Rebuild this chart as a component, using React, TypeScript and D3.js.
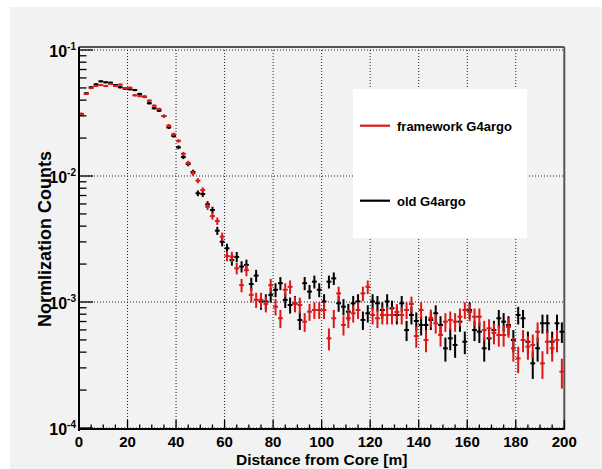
import React from "react";
import * as d3 from "d3";

// Bin layout (2 m bins from 0 to 200 m)
const BIN_WIDTH = 2;
const X_MIN = 0;
const X_MAX = 200;

// Normalized counts, old G4argo (black)
const oldG4argo = [
  0.031, 0.0453, 0.0506, 0.0534, 0.0564, 0.0554, 0.055, 0.0527, 0.0506, 0.0493,
  0.0488, 0.0481, 0.0448, 0.0426, 0.0378, 0.0345, 0.033, 0.0299, 0.0243, 0.0208,
  0.0169, 0.01415, 0.01245, 0.01076, 0.00729, 0.0072, 0.00596, 0.00537, 0.00368, 0.00301,
  0.00267, 0.00215, 0.00228, 0.00191, 0.00197, 0.00139, 0.00162, 0.00101, 0.00101, 0.00114,
  0.00125, 0.00141, 0.00104, 0.000947, 0.000977, 0.00072, 0.00141, 0.00121, 0.00145, 0.00125,
  0.00101, 0.00145, 0.00154, 0.000977, 0.000918, 0.000838, 0.000977, 0.00101, 0.00072, 0.000814,
  0.00101, 0.000977, 0.000864, 0.00101, 0.000891, 0.000789, 0.000977, 0.000599, 0.000789, 0.000707,
  0.000657, 0.000657, 0.00072, 0.000814, 0.000657, 0.000429, 0.000515, 0.000456, 0.000698, 0.000484,
  0.000864, 0.000599, 0.000581, 0.000429, 0.000515, 0.000599, 0.000743, 0.000698, 0.000657, 0.000499,
  0.000789, 0.000743, 0.000484, 0.000326, 0.000429, 0.000678, 0.000678, 0.000484, 0.000678, 0.000581,
];

// Normalized counts, framework G4argo (red)
const frameworkG4argo = [
  0.031, 0.0448, 0.0499, 0.0518, 0.0527, 0.0518, 0.0537, 0.0518, 0.0531, 0.0499,
  0.0502, 0.0437, 0.0431, 0.0424, 0.0396, 0.0361, 0.034, 0.0299, 0.0251, 0.0214,
  0.019, 0.015, 0.0127, 0.0105, 0.00918, 0.00774, 0.00571, 0.00481, 0.00439, 0.0033,
  0.00232, 0.00229, 0.00185, 0.00136, 0.00179, 0.00114, 0.00104, 0.00104, 0.000966, 0.00136,
  0.000918, 0.000743, 0.00125, 0.00132, 0.000966, 0.000947, 0.000698, 0.000838, 0.000864, 0.000864,
  0.000864, 0.000515, 0.000743, 0.00117, 0.000657, 0.000743, 0.000814, 0.000864, 0.00117, 0.00132,
  0.000789, 0.000743, 0.000789, 0.000789, 0.000789, 0.000833, 0.000789, 0.000864, 0.000964, 0.000537,
  0.000864, 0.000499, 0.000748, 0.000678, 0.000547, 0.000698, 0.00072, 0.000698, 0.000764, 0.000864,
  0.000833, 0.000764, 0.000764, 0.000599, 0.000618, 0.000568, 0.000547, 0.000547, 0.000633, 0.000429,
  0.000357, 0.000499, 0.000442, 0.000456, 0.000581, 0.000326, 0.000484, 0.000429, 0.000499, 0.00028,
];

const xTicks = [0, 20, 40, 60, 80, 100, 120, 140, 160, 180, 200];
const yDecades = [1e-4, 1e-3, 1e-2, 1e-1];
const yDecadeExp = ["-4", "-3", "-2", "-1"];
const legendLabels = ["framework G4argo", "old G4argo"];
const xTitle = "Distance from Core [m]";
const yTitle = "Normlization Counts";

// scale for Poisson-like error bars
const COUNT_SCALE = 50000;

const RED = "#dd1818";
const BLACK = "#000000";
const FONT = "'Liberation Sans', Arial, Helvetica, sans-serif";

export default function App() {
  const W = 602;
  const H = 469;
  const left = 79;
  const right = 564.3;
  const frameTop = 47;
  const frameBottom = 430;

  const x = d3.scaleLinear().domain([X_MIN, X_MAX]).range([left, right]);
  const y = d3.scaleLog().domain([1e-4, 1e-1]).range([428, 50]);

  const centers = oldG4argo.map((_, i) => X_MIN + BIN_WIDTH * (i + 0.5));

  const minorX = d3.range(X_MIN, X_MAX + 0.001, 5).filter((v) => v % 20 !== 0);
  const minorY: number[] = [];
  for (let d = 0; d < 3; d++) {
    for (let k = 2; k <= 9; k++) minorY.push(yDecades[d] * k);
  }

  const renderSeries = (vals: number[], color: string, key: string) => (
    <g key={key} stroke={color} strokeWidth={2}>
      {vals.map((v, i) => {
        const err = Math.sqrt(v / COUNT_SCALE);
        const cx = x(centers[i]);
        const cy = y(v);
        const y1 = y(v + err);
        const y0 = y(Math.max(v - err, 1e-5));
        return (
          <g key={i}>
            <line x1={cx} x2={cx} y1={y1} y2={Math.min(y0, frameBottom)} />
            <line
              x1={x(centers[i] - BIN_WIDTH / 2)}
              x2={x(centers[i] + BIN_WIDTH / 2)}
              y1={cy}
              y2={cy}
            />
          </g>
        );
      })}
    </g>
  );

  return (
    <svg
      width={W}
      height={H}
      style={{ position: "absolute", left: 0, top: 0 }}
      fontFamily={FONT}
      fontWeight="bold"
    >
      <rect x={0} y={0} width={W} height={H} fill="#ffffff" />
      <rect x={10} y={7} width={W - 10} height={H - 7} fill="#f2f2f2" />

      {/* grid */}
      <g stroke="#222" strokeWidth={1} strokeDasharray="1,2">
        {xTicks.slice(1, -1).map((t) => (
          <line key={"gx" + t} x1={x(t)} x2={x(t)} y1={frameTop} y2={frameBottom} />
        ))}
        {yDecades.map((t) => (
          <line key={"gy" + t} x1={left} x2={right} y1={y(t)} y2={y(t)} />
        ))}
      </g>

      {/* frame top/right */}
      <line x1={left} x2={right} y1={frameTop} y2={frameTop} stroke="#555" strokeWidth={2} />
      <line x1={right} x2={right} y1={frameTop} y2={frameBottom} stroke="#555" strokeWidth={2} />

      {/* data */}
      {renderSeries(oldG4argo, BLACK, "old")}
      {renderSeries(frameworkG4argo, RED, "fw")}

      {/* axes */}
      <line x1={left} x2={left} y1={frameTop} y2={frameBottom + 1} stroke="#000" strokeWidth={2} />
      <line x1={left} x2={right} y1={frameBottom - 1} y2={frameBottom - 1} stroke="#000" strokeWidth={2} />

      {/* x ticks */}
      <g stroke="#000" strokeWidth={1.3}>
        {xTicks.map((t) => (
          <line key={"tx" + t} x1={x(t)} x2={x(t)} y1={frameBottom - 1} y2={frameBottom - 10} />
        ))}
        {minorX.map((t) => (
          <line key={"mx" + t} x1={x(t)} x2={x(t)} y1={frameBottom - 1} y2={frameBottom - 5.5} />
        ))}
      </g>
      <g fontSize={15} textAnchor="middle" fill="#000">
        {xTicks.map((t) => (
          <text key={"lx" + t} x={x(t)} y={447}>
            {t}
          </text>
        ))}
      </g>

      {/* y ticks */}
      <g stroke="#000" strokeWidth={1.3}>
        {yDecades.map((t) => (
          <line key={"ty" + t} x1={left} x2={left + 14} y1={y(t)} y2={y(t)} />
        ))}
        {minorY.map((t, i) => (
          <line key={"my" + i} x1={left} x2={left + 7.5} y1={y(t)} y2={y(t)} />
        ))}
      </g>
      <g fill="#000">
        {yDecades.map((t, i) => (
          <text key={"ly" + t} x={76} y={y(t) + 7} textAnchor="end" fontSize={16}>
            10
            <tspan fontSize={10} dy={-7}>
              {yDecadeExp[i]}
            </tspan>
          </text>
        ))}
      </g>

      {/* titles */}
      <text x={(left + right) / 2} y={465} textAnchor="middle" fontSize={15.5} fill="#000">
        {xTitle}
      </text>
      <text
        transform={`translate(51, ${(50 + 428) / 2}) rotate(-90)`}
        textAnchor="middle"
        fontSize={18}
        fill="#000"
      >
        {yTitle}
      </text>

      {/* legend */}
      <rect x={353} y={89} width={174} height={149} fill="#ffffff" />
      <line x1={360} x2={390} y1={125.7} y2={125.7} stroke={RED} strokeWidth={2.2} />
      <line x1={360} x2={390} y1={200.7} y2={200.7} stroke={BLACK} strokeWidth={2.2} />
      <text x={397} y={130.5} fontSize={13} fill="#000">
        {legendLabels[0]}
      </text>
      <text x={397} y={205.5} fontSize={13} fill="#000">
        {legendLabels[1]}
      </text>
    </svg>
  );
}
